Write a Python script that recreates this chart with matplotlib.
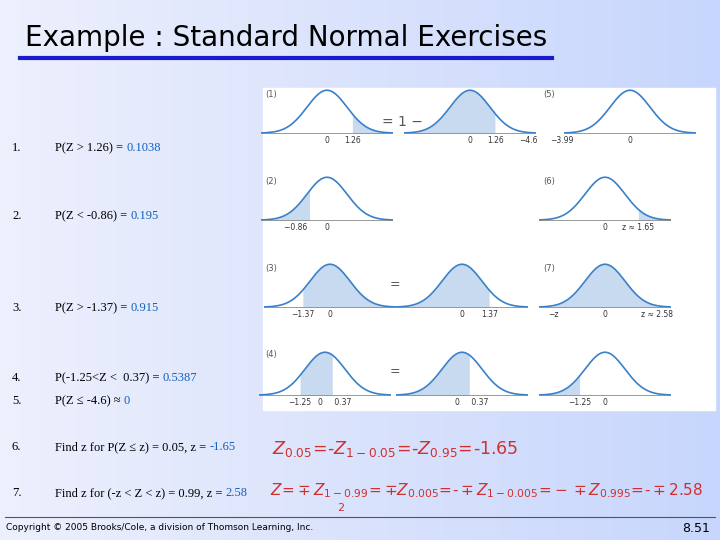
import numpy as np
import matplotlib
matplotlib.use("Agg")
import matplotlib.pyplot as plt
from matplotlib.patches import Rectangle

title = "Example : Standard Normal Exercises"
items = ["1.", "2.", "3.", "4.", "5.", "6.", "7."]
questions = ["P(Z > 1.26) = ", "P(Z < -0.86) = ", "P(Z > -1.37) = ", "P(-1.25<Z <  0.37) = ",
             "P(Z \u2264 -4.6) \u2248 ", "Find z for P(Z \u2264 z) = 0.05, z = ", "Find z for (-z < Z < z) = 0.99, z = "]
answers = ["0.1038", "0.195", "0.915", "0.5387", "0", "-1.65", "2.58"]
item_y = [148, 216, 308, 378, 401, 447, 493]

# panels: (center_x, top_y, shade_lo, shade_hi, tick labels (value, text, ha))
panels = [
    (327, 88, 1.26, 9, [(0, "0", "center"), (1.26, "1.26", "center")]),
    (470, 88, -9, 1.26, [(0, "0", "center"), (1.26, "1.26", "center")]),
    (630, 88, -9, -4.6, [(-4.6, "\u22124.6", "right"), (-3.99, "\u22123.99", "left"), (0, "0", "center")]),
    (327, 175, -9, -0.86, [(-0.86, "\u22120.86 ", "right"), (0, "0", "center")]),
    (605, 175, 1.65, 9, [(0, "0", "center"), (1.65, "z \u2248 1.65", "center")]),
    (330, 262, -1.37, 9, [(-1.37, "\u22121.37", "center"), (0, "0", "center")]),
    (462, 262, -9, 1.37, [(0, "0", "center"), (1.37, "1.37", "center")]),
    (605, 262, -2.58, 2.58, [(-2.58, "\u2212z", "center"), (0, "0", "center"), (2.58, "z \u2248 2.58", "center")]),
    (325, 350, -1.25, 0.37, [(-1.25, "\u22121.25", "center"), (0, "0 ", "right"), (0.37, " 0.37", "left")]),
    (462, 350, -9, 0.37, [(0, "0 ", "right"), (0.37, " 0.37", "left")]),
    (605, 350, -9, -1.25, [(-1.25, "\u22121.25", "center"), (0, "0", "center")]),
]
panel_nums = [(265, 90, "(1)"), (543, 90, "(5)"), (265, 177, "(2)"), (543, 177, "(6)"),
              (265, 264, "(3)"), (543, 264, "(7)"), (265, 350, "(4)")]

fig = plt.figure(figsize=(7.2, 5.4), dpi=100)
bg = fig.add_axes([0, 0, 1, 1])
grad = np.linspace(0, 1, 256)[None, :]
bg.imshow(np.dstack([0.93 - 0.15 * grad, 0.94 - 0.10 * grad, 0.99 + 0 * grad]),
          extent=[0, 720, 540, 0], aspect="auto")
bg.set_xlim(0, 720); bg.set_ylim(540, 0); bg.axis("off")
bg.add_patch(Rectangle((263, 88), 452, 322, color="white", zorder=1))
bg.plot([20, 552], [58, 58], color="#1a1ad0", lw=3)
bg.plot([5, 715], [517, 517], color="#555555", lw=0.8)
bg.text(25, 38, title, fontsize=20, va="center", color="black")
for n, q, a, y in zip(items, questions, answers, item_y):
    bg.text(12, y, n, fontsize=9, family="Liberation Serif", va="center")
    t = bg.text(55, y, q, fontsize=9, family="Liberation Serif", va="center")
    fig.canvas.draw()
    bb = t.get_window_extent()
    bg.text(55 + bb.width, y, a, fontsize=9, family="Liberation Serif", va="center", color="#1060c0")
for x, y, s in panel_nums:
    bg.text(x, y, s, fontsize=6, va="top", color="#555", zorder=3)
bg.text(382, 122, "= 1 \u2212", fontsize=10, va="center", color="#555", zorder=3)
for y in [285, 372]:
    bg.text(390, y, "=", fontsize=9, va="center", color="#555", zorder=3)
bg.text(272, 449, r"$Z_{0.05}\!=\!\text{-}Z_{1-0.05}\!=\!\text{-}Z_{0.95}\!=\!$-1.65",
        fontsize=12.5, color="#d03030", va="center", zorder=3)
bg.text(270, 491, r"$Z\!=\!\mp Z_{1-0.99}\!=\mp Z_{0.005}\!=\!\text{-}\mp Z_{1-0.005}\!=\!-\mp Z_{0.995}\!=\!\text{-}\mp$2.58",
        fontsize=11, color="#d03030", va="center", zorder=3)
bg.text(337, 508, "2", fontsize=8, color="#d03030", va="center", zorder=3)
bg.text(6, 528, "Copyright \u00a9 2005 Brooks/Cole, a division of Thomson Learning, Inc.", fontsize=6.5, va="center")
bg.text(710, 528, "8.51", fontsize=9, va="center", ha="right")

x = np.linspace(-3.3, 3.3, 300)
pdf = np.exp(-x**2 / 2) / np.sqrt(2 * np.pi)
for cx, ty, lo, hi, ticks in panels:
    w, h = 132, 58
    ax = fig.add_axes([(cx - w / 2) / 720, 1 - (ty + h) / 540, w / 720, h / 540])
    m = (x >= lo) & (x <= hi)
    ax.fill_between(x, 0, pdf, where=m, color="#c8daef", lw=0)
    ax.plot(x, pdf, color="#3a80c8", lw=1.2)
    ax.axhline(0, color="#888", lw=0.6)
    ax.set_xlim(-3.3, 3.3); ax.set_ylim(-0.12, 0.42)
    ax.axis("off")
    for v, s, ha in ticks:
        ax.text(v, -0.03, s, fontsize=5.5, ha=ha, va="top", color="#333", clip_on=False)
fig.savefig("out.png", dpi=100)
